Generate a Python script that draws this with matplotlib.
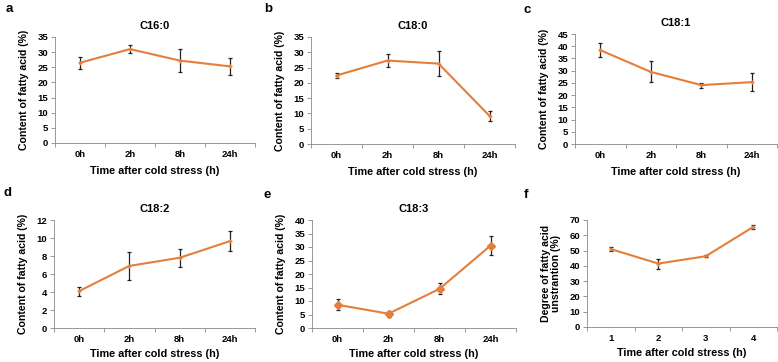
import matplotlib.pyplot as plt
import numpy as np

plt.rcParams['font.family'] = ['Liberation Sans', 'DejaVu Sans']
plt.rcParams['font.weight'] = 'bold'

hours = ['0h', '2h', '8h', '24h']
steps = ['1', '2', '3', '4']

c160 = [26.5, 31.0, 27.2, 25.3]
c160_err = [2.0, 1.2, 3.8, 2.9]
c180 = [22.4, 27.3, 26.3, 9.2]
c180_err = [0.8, 2.1, 4.1, 1.7]
c181 = [38.4, 29.5, 24.1, 25.3]
c181_err = [3.0, 4.3, 1.0, 3.8]
c182 = [4.1, 6.9, 7.8, 9.65]
c182_err = [0.5, 1.55, 1.0, 1.1]
c183 = [8.6, 5.3, 14.5, 30.5]
c183_err = [2.0, 1.1, 2.0, 3.4]
unsat = [51.0, 41.5, 46.3, 65.5]
unsat_err = [1.5, 3.3, 0.7, 1.3]

orange = '#E57E3A'
W, H = 778, 362

fig = plt.figure(figsize=(W / 100, H / 100), dpi=100)

def px_axes(l, t, r, b):
    return fig.add_axes([l / W, 1 - b / H, (r - l) / W, (b - t) / H])

panels = [
    # letter, title, labels, vals, err, ymax, step, box(l,t,r,b), ylabel, marker, letter pos, xlabel pad
    ('a', 'C16:0', hours, c160, c160_err, 35, 5, (55, 37, 255, 143), 'Content of fatty acid (%)', None, (6, 9), 5),
    ('b', 'C18:0', hours, c180, c180_err, 35, 5, (311, 37, 515, 144), 'Content of fatty acid (%)', None, (264, 9), 5),
    ('c', 'C18:1', hours, c181, c181_err, 45, 5, (575, 34, 777, 144), 'Content of fatty acid (%)', None, (523, 10), 5),
    ('d', 'C18:2', hours, c182, c182_err, 12, 2, (54, 220, 255, 328), 'Content of fatty acid (%)', None, (4, 193), 3.5),
    ('e', 'C18:3', hours, c183, c183_err, 40, 5, (312, 220, 516, 328), 'Content of fatty acid (%)', 'D', (264, 195), 3.5),
    ('f', '', steps, unsat, unsat_err, 70, 10, (587, 220, 777, 327), 'Degree of fatty acid\nunstrantion (%)', None, (524, 195), 3.5),
]

for letter, title, labels, vals, err, ymax, step, box, ylab, mk, lpos, xpad in panels:
    ax = px_axes(*box)
    x = np.arange(len(vals))
    ax.plot(x, vals, color=orange, lw=1.5, marker=mk if mk else '+',
            ms=4 if mk else 3, mec=orange, mfc=orange, zorder=3)
    ax.errorbar(x, vals, yerr=err, fmt='none', ecolor='#222222',
                elinewidth=0.9, capsize=1.6, capthick=0.9, zorder=2)
    ax.set_xlim(-0.5, len(vals) - 0.5)
    ax.set_ylim(0, ymax)
    ax.set_yticks(np.arange(0, ymax + 0.1, step))
    ax.set_xticks(x)
    ax.set_xticklabels(labels)
    ax.set_xticks(np.arange(-0.5, len(vals), 1.0), minor=True)
    ax.tick_params(axis='x', which='major', length=0, labelsize=6.8, pad=5)
    ax.tick_params(axis='x', which='minor', length=3, width=0.6, color='#888888')
    ax.tick_params(axis='y', length=3, width=0.6, color='#888888', labelsize=6.8, pad=2)
    for lab in ax.get_xticklabels() + ax.get_yticklabels():
        lab.set_fontweight('bold')
    ax.spines['top'].set_visible(False)
    ax.spines['right'].set_visible(False)
    ax.spines['left'].set_color('#888888')
    ax.spines['bottom'].set_color('#888888')
    ax.spines['left'].set_linewidth(0.6)
    ax.spines['bottom'].set_linewidth(0.6)
    ax.set_xlabel('Time after cold stress (h)', fontsize=7.8, fontweight='bold', labelpad=xpad)
    ax.set_ylabel(ylab, fontsize=7.6, fontweight='bold', labelpad=6, linespacing=1.05)
    if title:
        ax.set_title(title, fontsize=8, fontweight='bold', pad=6)
    fig.text(lpos[0] / W, 1 - lpos[1] / H, letter, fontsize=9.5, fontweight='bold',
             va='center', ha='left')

fig.savefig('out.png', dpi=100)
